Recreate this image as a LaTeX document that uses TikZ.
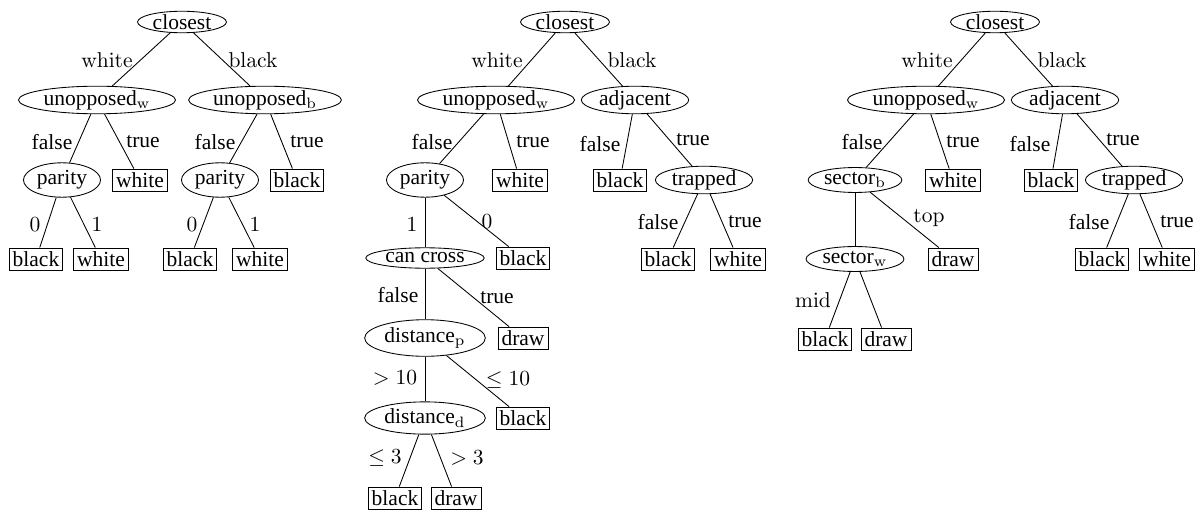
\documentclass[tikz,border=0pt]{standalone}
\usepackage[no-math]{fontspec}
\setmainfont{Liberation Serif}
\usetikzlibrary{shapes.geometric}
\newcommand{\cmtext}[1]{$\mathrm{#1}$}
\tikzset{test/.style={draw,ellipse,inner xsep=1pt,inner ysep=0pt,minimum height=10pt},
  leaf/.style={draw,rectangle,inner sep=1.6pt}}

\begin{document}
\begin{tikzpicture}[x=0.465pt,y=-0.465pt]
    \useasboundingbox (0,0) rectangle (1195,510);

    % first tree
    \draw node at (182,22)[test,name=rootA]{closest};
    \draw node at (97,100)[test,name=unoppwA,minimum height=11.5pt]{unopposed$_\mathrm{w}$};
    \draw node at (265,100)[test,name=unoppbA,minimum height=11.5pt]{unopposed$_\mathrm{b}$};
    \draw node at (62,180)[test,name=parwA,minimum height=16pt]{parity};
    \draw node at (140,180)[leaf,name=whiteA]{white};
    \draw node at (220,180)[test,name=parbA,minimum height=16pt]{parity};
    \draw node at (297,180)[leaf,name=blackA]{black};
    \draw node at (36,259)[leaf,name=zerowA]{black};
    \draw node at (101,259)[leaf,name=onewA]{white};
    \draw node at (190,259)[leaf,name=zerobA]{black};
    \draw node at (260,259)[leaf,name=onebA]{white};
    \draw (rootA) -- (unoppwA);
    \draw (rootA) -- (unoppbA);
    \draw (unoppwA) -- (parwA);
    \draw (unoppwA) -- (whiteA);
    \draw (unoppbA) -- (parbA);
    \draw (unoppbA) -- (blackA);
    \draw (parwA) -- (zerowA);
    \draw (parwA) -- (onewA);
    \draw (parbA) -- (zerobA);
    \draw (parbA) -- (onebA);
    \draw node at (107,60)[name=lwhiteA]{\cmtext{white}};
    \draw node at (253,60)[name=lblackA]{\cmtext{black}};
    \draw node at (52,142)[name=lfalsewA]{false};
    \draw node at (143,142)[name=ltruewA]{true};
    \draw node at (215,142)[name=lfalsebA]{false};
    \draw node at (307,142)[name=ltruebA]{true};
    \draw node at (35,225)[name=lzerowA]{$0$};
    \draw node at (97,225)[name=lonewA]{$1$};
    \draw node at (192,225)[name=lzerobA]{$0$};
    \draw node at (255,225)[name=lonebA]{$1$};

    % second tree
    \draw node at (565,22)[test,name=rootB]{closest};
    \draw node at (496,100)[test,name=unoppwB,minimum height=11.5pt]{unopposed$_\mathrm{w}$};
    \draw node at (635,100)[test,name=adjB,minimum height=12.6pt]{adjacent};
    \draw node at (425,180)[test,name=parB,minimum height=16pt]{parity};
    \draw node at (520,180)[leaf,name=whiteB]{white};
    \draw node at (620,180)[leaf,name=blackB]{black};
    \draw node at (704,180)[test,name=trapB,minimum height=12.6pt]{trapped};
    \draw node at (668,259)[leaf,name=trapfB]{black};
    \draw node at (738,259)[leaf,name=traptB]{white};
    \draw node at (425,258)[test,name=crossB,minimum height=9.5pt]{can cross};
    \draw node at (523,258)[leaf,name=zeroB]{black};
    \draw node at (425,338)[test,name=distpB,minimum height=17pt]{distance$_\mathrm{p}$};
    \draw node at (523,338)[leaf,name=crosstB]{draw};
    \draw node at (425,418)[test,name=distdB,minimum height=15pt]{distance$_\mathrm{d}$};
    \draw node at (523,418)[leaf,name=closeB]{black};
    \draw node at (395,498)[leaf,name=neardB]{black};
    \draw node at (456,498)[leaf,name=fardB]{draw};
    \draw (rootB) -- (unoppwB);
    \draw (rootB) -- (adjB);
    \draw (unoppwB) -- (parB);
    \draw (unoppwB) -- (whiteB);
    \draw (adjB) -- (blackB);
    \draw (adjB) -- (trapB);
    \draw (trapB) -- (trapfB);
    \draw (trapB) -- (traptB);
    \draw (parB) -- (crossB);
    \draw (parB) -- (zeroB);
    \draw (crossB) -- (distpB);
    \draw (crossB) -- (crosstB);
    \draw (distpB) -- (distdB);
    \draw (distpB) -- (closeB);
    \draw (distdB) -- (neardB);
    \draw (distdB) -- (fardB);
    \draw node at (497,60)[name=lwhiteB]{\cmtext{white}};
    \draw node at (632,60)[name=lblackB]{\cmtext{black}};
    \draw node at (432,142)[name=lfalsewB]{false};
    \draw node at (533,142)[name=ltruewB]{true};
    \draw node at (600,144)[name=lfalseaB]{false};
    \draw node at (693,140)[name=ltrueaB]{true};
    \draw node at (658,222)[name=lfalsetB]{false};
    \draw node at (745,222)[name=ltruetB]{true};
    \draw node at (412,225)[name=loneB]{$1$};
    \draw node at (487,222)[name=lzeroB]{$0$};
    \draw node at (398,295)[name=lfalsecB]{false};
    \draw node at (497,298)[name=ltruecB]{true};
    \draw node at (395,378)[name=lfarpB]{$>10$};
    \draw node at (508,380)[name=lnearpB]{$\leq 10$};
    \draw node at (385,458)[name=lneardB]{$\leq 3$};
    \draw node at (467,458)[name=lfardB]{$>3$};

    % third tree
    \draw node at (995,22)[test,name=rootC]{closest};
    \draw node at (926,100)[test,name=unoppwC,minimum height=11.5pt]{unopposed$_\mathrm{w}$};
    \draw node at (1065,100)[test,name=adjC,minimum height=12.6pt]{adjacent};
    \draw node at (855,180)[test,name=secbC,minimum height=11.6pt]{sector$_\mathrm{b}$};
    \draw node at (953,180)[leaf,name=whiteC]{white};
    \draw node at (1051,180)[leaf,name=blackC]{black};
    \draw node at (1134,180)[test,name=trapC,minimum height=12.6pt]{trapped};
    \draw node at (1102,259)[leaf,name=trapfC]{black};
    \draw node at (1167,259)[leaf,name=traptC]{white};
    \draw node at (855,259)[test,name=secwC,minimum height=11.6pt]{sector$_\mathrm{w}$};
    \draw node at (953,259)[leaf,name=topC]{draw};
    \draw node at (825,339)[leaf,name=midC]{black};
    \draw node at (886,339)[leaf,name=restC]{draw};
    \draw (rootC) -- (unoppwC);
    \draw (rootC) -- (adjC);
    \draw (unoppwC) -- (secbC);
    \draw (unoppwC) -- (whiteC);
    \draw (adjC) -- (blackC);
    \draw (adjC) -- (trapC);
    \draw (trapC) -- (trapfC);
    \draw (trapC) -- (traptC);
    \draw (secbC) -- (secwC);
    \draw (secbC) -- (topC);
    \draw (secwC) -- (midC);
    \draw (secwC) -- (restC);
    \draw node at (927,60)[name=lwhiteC]{\cmtext{white}};
    \draw node at (1062,60)[name=lblackC]{\cmtext{black}};
    \draw node at (862,142)[name=lfalsewC]{false};
    \draw node at (963,142)[name=ltruewC]{true};
    \draw node at (1030,144)[name=lfalseaC]{false};
    \draw node at (1123,140)[name=ltrueaC]{true};
    \draw node at (1089,222)[name=lfalsetC]{false};
    \draw node at (1177,222)[name=ltruetC]{true};
    \draw node at (929,218)[name=ltopC]{\cmtext{top}};
    \draw node at (813,300)[name=lmidC]{\cmtext{mid}};
\end{tikzpicture}
\end{document}
